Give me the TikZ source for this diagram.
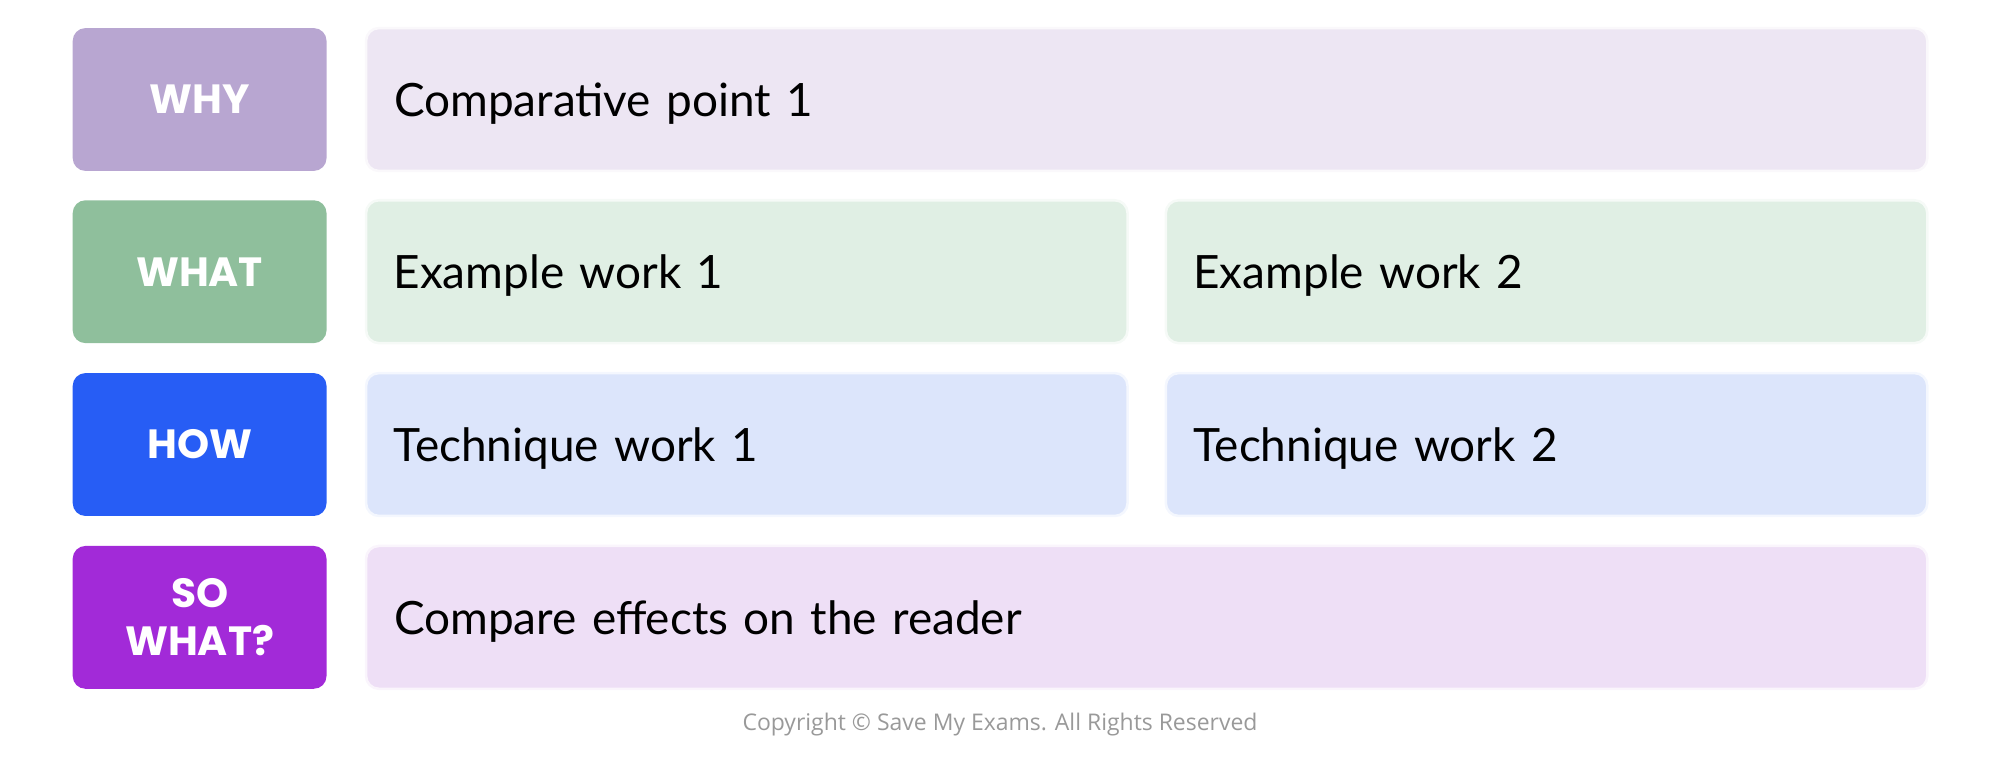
\documentclass[tikz,border=0pt]{standalone}
\usepackage{fontspec}
\setmainfont{Lato}
\newfontfamily\labelfont{Poppins}
\newfontfamily\notefont{Open Sans}
\definecolor{whyc}{HTML}{B8A6D1}\definecolor{whyb}{HTML}{EDE6F3}
\definecolor{whatc}{HTML}{8FBF9C}\definecolor{whatb}{HTML}{E0EFE4}
\definecolor{howc}{HTML}{275DF5}\definecolor{howb}{HTML}{DCE5FB}
\definecolor{soc}{HTML}{A22AD8}\definecolor{sob}{HTML}{EEDFF6}
\tikzset{
  tag/.style={rounded corners=5pt, minimum width=99.5pt, minimum height=56pt, inner sep=0pt,
    text=white, font=\labelfont\bfseries\fontsize{16}{19}\selectfont, align=center},
  cell/.style={rounded corners=5pt, draw=white!70!#1, line width=1pt, fill=#1, inner sep=0pt,
    minimum height=56pt, text=black, font=\fontsize{18}{20}\selectfont, anchor=west,
    text depth=0pt},
}
\begin{document}
\begin{tikzpicture}[x=0.5pt,y=-0.5pt]
	\useasboundingbox (0,0) rectangle (1568,612);

	\node[tag, fill=whyc] (why) at (156.5, 78) {WHY};
	\node[tag, fill=whatc] (what) at (156.5, 213) {WHAT};
	\node[tag, fill=howc] (how) at (156.5, 348.5) {HOW};
	\node[tag, fill=soc] (so) at (156.5, 484) {SO\\WHAT?};

	% Content cells
	\node[cell=whyb, minimum width=612pt, text width=590pt] (point) at (286, 78) {Comparative point 1};
	\node[cell=whatb, minimum width=298.5pt, text width=277pt] (ex1) at (286, 213) {Example work 1};
	\node[cell=whatb, minimum width=298.5pt, text width=277pt] (ex2) at (913, 213) {Example work 2};
	\node[cell=howb, minimum width=298.5pt, text width=277pt] (tech1) at (286, 348.5) {Technique work 1};
	\node[cell=howb, minimum width=298.5pt, text width=277pt] (tech2) at (913, 348.5) {Technique work 2};
	\node[cell=sob, minimum width=612pt, text width=590pt] (effects) at (286, 484) {Compare effects on the reader};

	\node[text=black!40, font=\notefont\fontsize{9}{11}\selectfont] (copy) at (784, 568) {Copyright © Save My Exams. All Rights Reserved};
\end{tikzpicture}
\end{document}
